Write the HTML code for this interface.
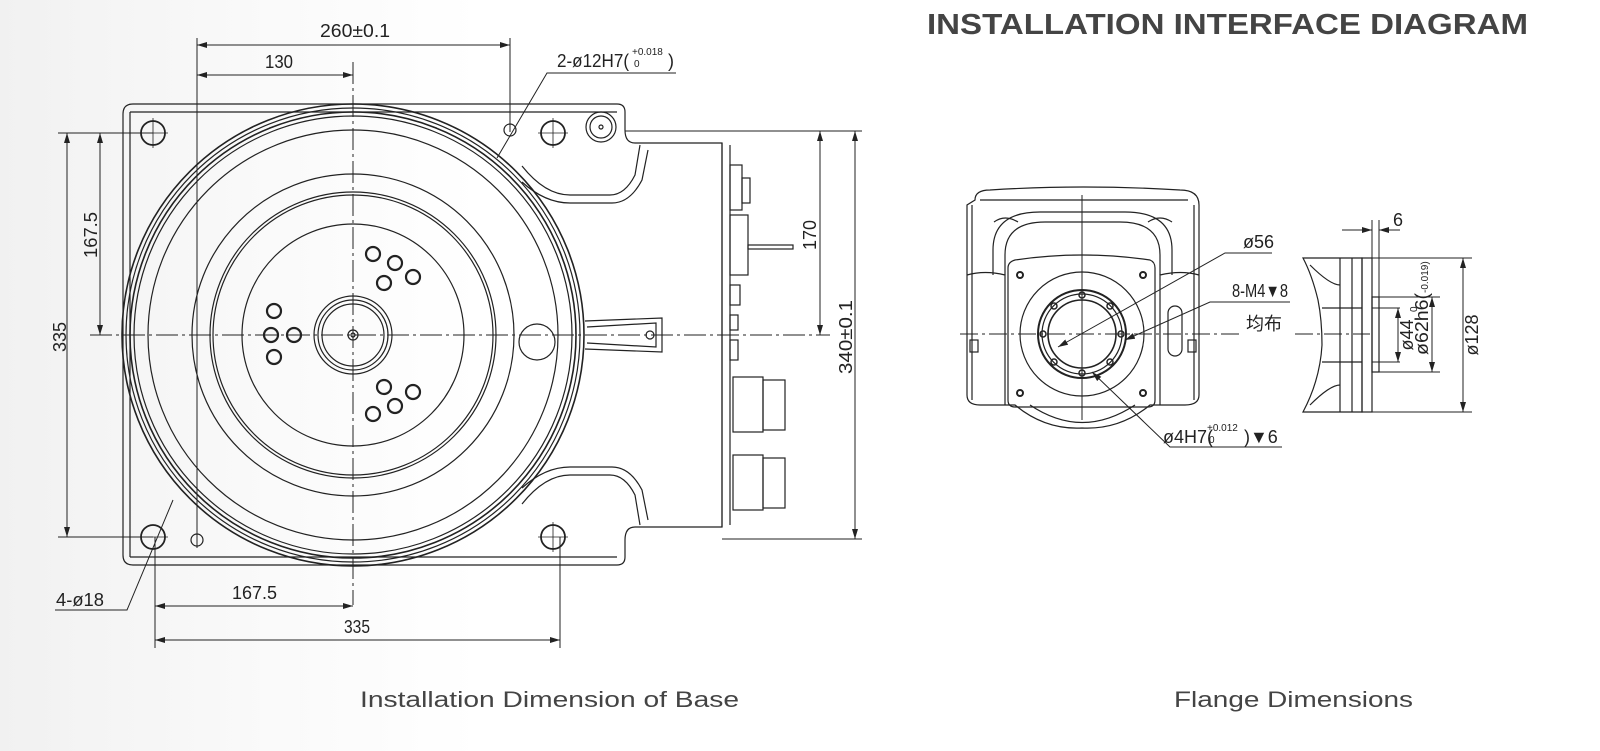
<!DOCTYPE html>
<html><head><meta charset="utf-8"><style>
html,body{margin:0;padding:0;background:#fff;}
svg{display:block}
.d{font-family:"Liberation Sans","Noto Sans CJK SC",sans-serif;font-size:18px;fill:#222}
.s{font-family:"Liberation Sans",sans-serif;font-size:10px;fill:#222}
</style></head><body>
<svg width="1600" height="751" viewBox="0 0 1600 751" xmlns="http://www.w3.org/2000/svg">
<defs>
<linearGradient id="bg" x1="0" x2="1" y1="0" y2="0">
<stop offset="0" stop-color="#f1f1f1"/><stop offset="0.15" stop-color="#f9f9f9"/><stop offset="0.3" stop-color="#fff"/>
</linearGradient>
<marker id="a" viewBox="0 0 10 6" refX="10" refY="3" markerWidth="10" markerHeight="6" orient="auto-start-reverse" markerUnits="userSpaceOnUse"><path d="M0,0L10,3L0,6z" fill="#222"/></marker>
</defs>
<rect width="1600" height="751" fill="url(#bg)"/>
<text x="927" y="34" font-family="Liberation Sans,sans-serif" font-weight="bold" font-size="29" fill="#444" textLength="601" lengthAdjust="spacingAndGlyphs">INSTALLATION INTERFACE DIAGRAM</text>
<text x="360" y="707" font-family="Liberation Sans,sans-serif" font-size="22" fill="#444" textLength="379" lengthAdjust="spacingAndGlyphs">Installation Dimension of Base</text>
<text x="1174" y="707" font-family="Liberation Sans,sans-serif" font-size="22" fill="#444" textLength="239" lengthAdjust="spacingAndGlyphs">Flange Dimensions</text>

<g fill="none" stroke="#222" stroke-width="1.2">
<path d="M133,104 H617 Q625,104 625,112 V130 Q625,143 635,143 H722 V527 H635 Q625,527 625,540 V557 Q625,565 617,565 H133 Q123,565 123,555 V114 Q123,104 133,104Z"/>
<path d="M130,112 H617 M130,557 H617 M130,112 V557"/>
<path d="M522,166 Q545,195 570,195 H610 Q625,195 635,175 L640,145"/>
<path d="M522,182 Q545,203 570,203 H612 Q630,203 642,180 L648,150"/>
<path d="M522,504 Q545,475 570,475 H610 Q625,475 635,495 L640,525"/>
<path d="M522,488 Q545,467 570,467 H612 Q630,467 642,490 L648,520"/>
<line x1="722" y1="143" x2="722" y2="527"/>
<line x1="730" y1="145" x2="730" y2="525"/>
<rect x="730" y="165" width="12" height="45"/><rect x="742" y="178" width="8" height="25"/>
<rect x="730" y="215" width="18" height="60"/><rect x="748" y="245" width="45" height="4"/>
<rect x="730" y="285" width="10" height="20"/><rect x="730" y="315" width="8" height="15"/><rect x="730" y="340" width="8" height="20"/>
<rect x="733" y="377" width="30" height="55"/><rect x="763" y="380" width="22" height="50"/>
<rect x="733" y="455" width="30" height="55"/><rect x="763" y="458" width="22" height="50"/>
<path d="M585,321 L662,318 V352 L585,349"/><path d="M587,327 L656,323 V347 L587,343"/>
<circle cx="650" cy="335" r="4"/>
<circle cx="537" cy="342" r="18"/>
<circle cx="353" cy="335" r="231" stroke-width="1.6"/>
<circle cx="353" cy="335" r="227"/>
<circle cx="353" cy="335" r="223" stroke-width="1.6"/>
<circle cx="353" cy="335" r="219"/>
<circle cx="353" cy="335" r="205"/>
<circle cx="353" cy="335" r="161"/>
<circle cx="353" cy="335" r="143"/>
<circle cx="353" cy="335" r="140"/>
<circle cx="353" cy="335" r="111"/>
<circle cx="353" cy="335" r="39"/>
<circle cx="353" cy="335" r="35"/>
<circle cx="353" cy="335" r="31"/>
<circle cx="353" cy="335" r="5"/><circle cx="353" cy="335" r="2"/>
<g stroke-width="2.2">
<circle cx="373" cy="254" r="7"/><circle cx="395" cy="263" r="7"/><circle cx="384" cy="283" r="7"/><circle cx="413" cy="277" r="7"/>
<circle cx="274" cy="311" r="7"/><circle cx="271" cy="335" r="7"/><circle cx="294" cy="335" r="7"/><circle cx="274" cy="357" r="7"/>
<circle cx="384" cy="387" r="7"/><circle cx="413" cy="392" r="7"/><circle cx="395" cy="406" r="7"/><circle cx="373" cy="414" r="7"/>
</g>
<circle cx="153" cy="133" r="12" stroke-width="1.8"/><circle cx="553" cy="133" r="12" stroke-width="1.8"/>
<circle cx="153" cy="537" r="12" stroke-width="1.8"/><circle cx="553" cy="537" r="12" stroke-width="1.8"/>
<path d="M153,118V148M138,133H168M553,118V148M538,133H568M553,522V552M538,537H568M138,537H168" stroke-width="0.8"/>
<circle cx="510" cy="130" r="6"/><circle cx="197" cy="540" r="6"/>
<circle cx="601" cy="127" r="15"/><circle cx="601" cy="127" r="11"/><circle cx="601" cy="127" r="2"/>
</g>
<g stroke="#222" stroke-width="1" fill="none">
<line x1="353" y1="62" x2="353" y2="605" stroke-dasharray="22,4,3,4"/>
<line x1="90" y1="335" x2="830" y2="335" stroke-dasharray="22,4,3,4"/>
<line x1="197" y1="38" x2="197" y2="548"/>
<line x1="510" y1="38" x2="510" y2="132"/>
<line x1="58" y1="133" x2="153" y2="133"/><line x1="58" y1="537" x2="153" y2="537"/>
<line x1="625" y1="131" x2="862" y2="131"/><line x1="722" y1="539" x2="862" y2="539"/>
<line x1="155" y1="537" x2="155" y2="648"/><line x1="560" y1="537" x2="560" y2="648"/>
<line x1="197" y1="45" x2="510" y2="45" marker-start="url(#a)" marker-end="url(#a)"/>
<line x1="197" y1="75" x2="353" y2="75" marker-start="url(#a)" marker-end="url(#a)"/>
<line x1="67" y1="133" x2="67" y2="537" marker-start="url(#a)" marker-end="url(#a)"/>
<line x1="100" y1="133" x2="100" y2="335" marker-start="url(#a)" marker-end="url(#a)"/>
<line x1="855" y1="131" x2="855" y2="539" marker-start="url(#a)" marker-end="url(#a)"/>
<line x1="820" y1="131" x2="820" y2="335" marker-start="url(#a)" marker-end="url(#a)"/>
<line x1="155" y1="606" x2="353" y2="606" marker-start="url(#a)" marker-end="url(#a)"/>
<line x1="155" y1="640" x2="560" y2="640" marker-start="url(#a)" marker-end="url(#a)"/>
<polyline points="497,158 547,73 676,73"/>
<polyline points="173,500 127,610 55,610"/>
</g>
<g class="d">
<text x="320" y="37" textLength="70" lengthAdjust="spacingAndGlyphs">260±0.1</text>
<text x="265" y="68" textLength="28" lengthAdjust="spacingAndGlyphs">130</text>
<text x="557" y="67" textLength="72" lengthAdjust="spacingAndGlyphs">2-ø12H7(</text><text x="632" y="55" class="s">+0.018</text><text x="634" y="67" class="s">0</text><text x="668" y="67">)</text>
<text x="56" y="606" textLength="48" lengthAdjust="spacingAndGlyphs">4-ø18</text>
<text x="232" y="599" textLength="45" lengthAdjust="spacingAndGlyphs">167.5</text>
<text x="344" y="633" textLength="26" lengthAdjust="spacingAndGlyphs">335</text>
<text transform="translate(66,337) rotate(-90)" text-anchor="middle">335</text>
<text transform="translate(97,235) rotate(-90)" text-anchor="middle" textLength="46" lengthAdjust="spacingAndGlyphs">167.5</text>
<text transform="translate(852,337) rotate(-90)" text-anchor="middle" textLength="74" lengthAdjust="spacingAndGlyphs">340±0.1</text>
<text transform="translate(816,235) rotate(-90)" text-anchor="middle">170</text>
</g>

<g fill="none" stroke="#222" stroke-width="1.2">
<path d="M975,200 Q975,190 990,190 Q1082,184 1180,190 Q1199,190 1199,205 V395 Q1199,405 1185,405 H1150 Q1120,430 1082,428 Q1045,430 1015,405 H980 Q967,405 967,395 V205Z"/>
<line x1="980" y1="200" x2="1188" y2="200"/>
<line x1="972" y1="205" x2="972" y2="400"/><line x1="1194" y1="205" x2="1194" y2="400"/>
<path d="M993,275 V250 Q993,212 1040,212 H1125 Q1172,212 1172,250 V275"/>
<path d="M1005,275 V255 Q1005,222 1045,222 H1120 Q1160,222 1160,255 V275"/>
<path d="M967,275 Q985,270 1005,275 V405"/><path d="M1199,275 Q1181,270 1160,275 V405"/>
<path d="M1015,260 Q1082,250 1150,260 Q1155,262 1155,268 V400 Q1155,407 1148,407 H1015 Q1008,407 1008,400 V268 Q1008,262 1015,260Z"/>
<circle cx="1082" cy="334" r="62"/>
<circle cx="1082" cy="334" r="44" stroke-width="2"/>
<circle cx="1082" cy="334" r="40"/>
<circle cx="1082" cy="334" r="34" stroke-width="1.6"/>
<path d="M1030,405 Q1082,440 1135,405"/>
<rect x="1168" y="306" width="14" height="50" rx="7"/>
<rect x="970" y="340" width="8" height="12"/><rect x="1188" y="340" width="8" height="12"/>
<path d="M994,222 Q1005,214 1018,222"/><path d="M1148,222 Q1160,214 1172,222"/>
<g stroke-width="2"><circle cx="1020" cy="275" r="3"/><circle cx="1143" cy="275" r="3"/><circle cx="1020" cy="393" r="3"/><circle cx="1143" cy="393" r="3"/></g>
<g stroke-width="1.5"><circle cx="1082" cy="295" r="3"/><circle cx="1082" cy="373" r="3"/><circle cx="1043" cy="334" r="3"/><circle cx="1121" cy="334" r="3"/><circle cx="1054" cy="306" r="3"/><circle cx="1110" cy="306" r="3"/><circle cx="1054" cy="362" r="3"/><circle cx="1110" cy="362" r="3"/></g>
</g>
<g stroke="#222" stroke-width="1" fill="none">
<line x1="1082" y1="195" x2="1082" y2="420"/>
<line x1="960" y1="334" x2="1240" y2="334" stroke-dasharray="18,4,3,4"/>
<line x1="1295" y1="334" x2="1370" y2="334" stroke-dasharray="18,4,3,4"/>
<polyline points="1058,347 1225,253 1272,253" marker-start="url(#a)"/>
<polyline points="1125,340 1210,302 1290,302" marker-start="url(#a)"/>
<polyline points="1092,372 1170,447 1282,447" marker-start="url(#a)"/>
</g>
<g class="d">
<text x="1243" y="248">ø56</text>
<text x="1232" y="297" textLength="56" lengthAdjust="spacingAndGlyphs">8-M4▼8</text>
<text x="1246" y="330" font-family="Noto Sans CJK SC,sans-serif">均布</text>
<text x="1163" y="443">ø4H7(</text><text x="1207" y="431" class="s">+0.012</text><text x="1209" y="443" class="s">0</text><text x="1244" y="443">)▼6</text>
</g>

<g fill="none" stroke="#222" stroke-width="1.2">
<path d="M1303,258 H1362 V412 H1303 Q1320,380 1322,345 Q1322,320 1318,300 Q1312,275 1303,258Z"/>
<rect x="1362" y="258" width="10" height="154"/>
<rect x="1372" y="297" width="7" height="75"/>
<line x1="1340" y1="258" x2="1340" y2="412"/><line x1="1352" y1="258" x2="1352" y2="412"/>
<line x1="1322" y1="308" x2="1362" y2="308"/><line x1="1322" y1="362" x2="1362" y2="362"/>
<path d="M1310,265 Q1330,285 1340,285"/><path d="M1310,405 Q1330,385 1340,385"/>
</g>
<g stroke="#222" stroke-width="1" fill="none">
<line x1="1372" y1="220" x2="1372" y2="258"/><line x1="1379" y1="220" x2="1379" y2="297"/>
<line x1="1342" y1="230" x2="1372" y2="230" marker-end="url(#a)"/><line x1="1400" y1="230" x2="1379" y2="230" marker-end="url(#a)"/>
<line x1="1372" y1="258" x2="1472" y2="258"/><line x1="1372" y1="412" x2="1472" y2="412"/>
<line x1="1463" y1="258" x2="1463" y2="412" marker-start="url(#a)" marker-end="url(#a)"/>
<line x1="1379" y1="297" x2="1440" y2="297"/><line x1="1379" y1="372" x2="1440" y2="372"/>
<line x1="1432" y1="297" x2="1432" y2="372" marker-start="url(#a)" marker-end="url(#a)"/>
<line x1="1372" y1="308" x2="1400" y2="308"/><line x1="1372" y1="362" x2="1400" y2="362"/>
<line x1="1398" y1="308" x2="1398" y2="362" marker-start="url(#a)" marker-end="url(#a)"/>
</g>
<g class="d">
<text x="1393" y="226">6</text>
<text transform="translate(1413,335) rotate(-90)" text-anchor="middle">ø44</text>
<text transform="translate(1428,355) rotate(-90)" textLength="62" lengthAdjust="spacingAndGlyphs">ø62h6(</text>
<text transform="translate(1417,312) rotate(-90)" class="s">0</text>
<text transform="translate(1428,293) rotate(-90)" class="s">-0.019)</text>
<text transform="translate(1478,335) rotate(-90)" text-anchor="middle">ø128</text>
</g>
</svg>
</body></html>
